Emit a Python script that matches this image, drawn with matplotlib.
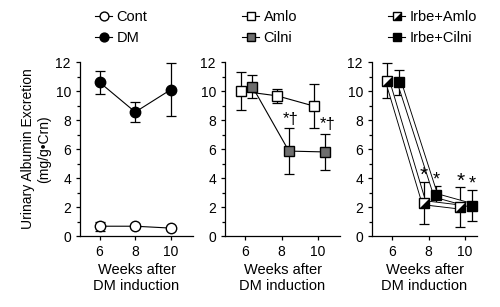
import matplotlib
matplotlib.use("Agg")
from matplotlib import pyplot as plt
from matplotlib.ticker import MultipleLocator

plt.rcParams["font.family"] = ["Liberation Sans", "DejaVu Sans"]
plt.rcParams["font.size"] = 9.5

weeks = [6, 8, 10]

cont = [0.68, 0.68, 0.55]
cont_err = [0.3, 0.15, 0.1]
dm = [10.6, 8.55, 10.1]
dm_err = [0.8, 0.68, 1.8]

amlo = [10.0, 9.67, 8.97]
amlo_err = [1.3, 0.5, 1.5]
cilni = [10.3, 5.86, 5.8]
cilni_err = [0.8, 1.58, 1.27]

irbe_amlo = [10.7, 2.3, 2.0]
irbe_amlo_err = [1.2, 1.45, 1.37]
irbe_cilni = [10.6, 2.8, 2.1]
irbe_cilni_err = [0.85, 0.65, 1.05]

fig = plt.figure(figsize=(5, 3.07), dpi=100)
ax1 = fig.add_axes([0.16, 0.231, 0.226, 0.567])
ax2 = fig.add_axes([0.45, 0.231, 0.23, 0.567])
ax3 = fig.add_axes([0.744, 0.231, 0.21, 0.567])

ms = 7.5
eb = dict(fmt="none", ecolor="black", elinewidth=0.9, capsize=3.5, capthick=0.9, zorder=2)


def shift(xs, d):
    return [x + d for x in xs]


# panel 1
ax1.errorbar(weeks, cont, yerr=cont_err, **eb)
ax1.errorbar(weeks, dm, yerr=dm_err, **eb)
h1, = ax1.plot(weeks, cont, "-o", color="black", mfc="white", mec="black", ms=ms, lw=0.8, zorder=3, label="Cont")
h2, = ax1.plot(weeks, dm, "-o", color="black", mfc="black", ms=ms, lw=0.8, zorder=3, label="DM")

# panel 2
xa = shift(weeks, -0.25)
xc = shift(weeks, 0.4)
ax2.errorbar(xa, amlo, yerr=amlo_err, **eb)
ax2.errorbar(xc, cilni, yerr=cilni_err, **eb)
h3, = ax2.plot(xa, amlo, "-s", color="black", mfc="white", mec="black", ms=ms, lw=0.8, zorder=3, label="Amlo")
h4, = ax2.plot(xc, cilni, "-s", color="black", mfc="#6e6e6e", mec="black", ms=ms, lw=0.8, zorder=3, label="Cilni")
ax2.text(xc[1] + 0.1, cilni[1] + cilni_err[1] + 0.1, "*\u2020", ha="center", va="bottom", fontsize=12)
ax2.text(xc[2] + 0.1, cilni[2] + cilni_err[2] + 0.1, "*\u2020", ha="center", va="bottom", fontsize=12)

# panel 3 (double outlined lines)
ax3.errorbar(xa, irbe_amlo, yerr=irbe_amlo_err, **eb)
ax3.errorbar(xc, irbe_cilni, yerr=irbe_cilni_err, **eb)
for xs, ys in ((xa, irbe_amlo), (xc, irbe_cilni)):
    ax3.plot(xs, ys, "-", color="black", lw=3.6, zorder=2.5, solid_capstyle="butt")
    ax3.plot(xs, ys, "-", color="white", lw=2.3, zorder=2.6, solid_capstyle="butt")
tri = [(-1, -1), (1, -1), (1, 1)]
ax3.plot(xa, irbe_amlo, "s", mfc="white", mec="black", ms=ms, zorder=3)
ax3.plot(xa, irbe_amlo, ls="none", marker=tri, mfc="black", mec="black", mew=0.5, ms=ms, zorder=3.1)
ax3.plot(xc, irbe_cilni, "s", mfc="black", mec="black", ms=ms, zorder=3)
for i in (1, 2):
    ax3.text(xa[i], irbe_amlo[i] + irbe_amlo_err[i] - 0.25, "*", ha="center", va="bottom", fontsize=15)
    ax3.text(xc[i], irbe_cilni[i] + irbe_cilni_err[i] - 0.15, "*", ha="center", va="bottom", fontsize=13)

# legend handles for panel 3
h5, = ax3.plot([], [], "-s", color="black", mfc="white", mec="black", ms=ms, lw=0.8)
h5b, = ax3.plot([], [], ls="none", marker=tri, mfc="black", mec="black", mew=0.5, ms=ms)
h6, = ax3.plot([], [], "-s", color="black", mfc="black", ms=ms, lw=0.8)

for ax, xr in ((ax1, 11.24), (ax2, 11.2), (ax3, 10.66)):
    ax.set_xlim(4.9, xr)
    ax.set_ylim(0, 12)
    ax.set_xticks(weeks)
    ax.set_yticks(range(0, 13, 2))
    ax.yaxis.set_minor_locator(MultipleLocator(1))
    ax.spines["top"].set_visible(False)
    ax.spines["right"].set_visible(False)
    ax.spines["left"].set_linewidth(0.9)
    ax.spines["bottom"].set_linewidth(0.9)
    ax.tick_params(which="both", direction="out", width=0.9, length=3, labelsize=10)
    ax.tick_params(which="minor", length=2)
    ax.set_xlabel("Weeks after\nDM induction", fontsize=10.5, labelpad=3)
    for c in ax.get_children():
        if hasattr(c, "set_clip_on"):
            c.set_clip_on(False)

ax1.set_ylabel("Urinary Albumin Excretion\n(mg/g\u2022Crn)", fontsize=10, labelpad=3)

leg = dict(loc="upper left", frameon=False, handlelength=1.2, handletextpad=0.3,
           labelspacing=0.45, fontsize=10.5, borderaxespad=0, markerscale=0.85)
ax1.legend(handles=[h1, h2], bbox_to_anchor=(0.178, 0.985), bbox_transform=fig.transFigure, **leg)
ax2.legend(handles=[h3, h4], bbox_to_anchor=(0.472, 0.985), bbox_transform=fig.transFigure, **leg)
ax3.legend([(h5, h5b), h6], ["Irbe+Amlo", "Irbe+Cilni"],
           bbox_to_anchor=(0.764, 0.985), bbox_transform=fig.transFigure, **leg)

fig.savefig("out.png", dpi=100)
